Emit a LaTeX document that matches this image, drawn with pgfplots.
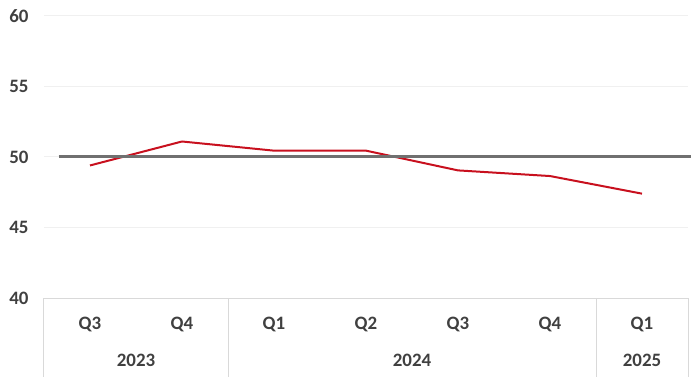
\documentclass[border=0pt]{standalone}
\usepackage{fontspec}
\setmainfont{Carlito}
\usepackage{pgfplots}
\pgfplotsset{compat=1.18}
\definecolor{txt}{RGB}{64,64,64}
\definecolor{redl}{RGB}{200,16,30}
\definecolor{grayl}{RGB}{112,112,112}
\definecolor{gridc}{RGB}{240,240,240}
\definecolor{axc}{RGB}{217,217,217}
\begin{document}
\begin{tikzpicture}
\path[use as bounding box] (-44bp,-79bp) rectangle (656bp,298bp);
\begin{axis}[
  at={(0,0)}, anchor=south west,
  scale only axis, width=644bp, height=282bp,
  xmin=-0.5, xmax=6.5, ymin=40, ymax=60,
  ytick={40,45,50,55,60},
  xtick={0,1,2,3,4,5,6},
  xticklabels={Q3,Q4,Q1,Q2,Q3,Q4,Q1},
  axis line style={draw=none},
  major tick length=0pt,
  ymajorgrids, grid style={gridc, line width=1bp},
  tick label style={font=\fontsize{19}{21}\selectfont\bfseries, text=txt},
  /pgf/number format/assume math mode=true,
  yticklabel style={anchor=east, xshift=-12bp},
  xticklabel style={anchor=center, yshift=-26bp},
  clip=false,
]
\addplot[redl, line width=2bp, mark=none, line join=round] coordinates {
  (0,49.4) (1,51.1) (2,50.45) (3,50.45) (4,49.05) (5,48.65) (6,47.4)
};
\addplot[grayl, line width=3bp, mark=none] coordinates {(-0.34,50) (6.53,50)};
\draw[axc, line width=1bp] (axis cs:-0.5,40) -- (axis cs:6.5,40);
\draw[axc, line width=1bp] (axis cs:-0.5,40) -- ([yshift=-79bp]axis cs:-0.5,40);
\draw[axc, line width=1bp] (axis cs:1.5,40) -- ([yshift=-79bp]axis cs:1.5,40);
\draw[axc, line width=1bp] (axis cs:5.5,40) -- ([yshift=-79bp]axis cs:5.5,40);
\draw[axc, line width=1bp] (axis cs:6.5,40) -- ([yshift=-79bp]axis cs:6.5,40);
\node[font=\fontsize{19}{21}\selectfont\bfseries, text=txt] at ([yshift=-62bp]axis cs:0.5,40) {2023};
\node[font=\fontsize{19}{21}\selectfont\bfseries, text=txt] at ([yshift=-62bp]axis cs:3.5,40) {2024};
\node[font=\fontsize{19}{21}\selectfont\bfseries, text=txt] at ([yshift=-62bp]axis cs:6,40) {2025};
\end{axis}
\end{tikzpicture}
\end{document}
